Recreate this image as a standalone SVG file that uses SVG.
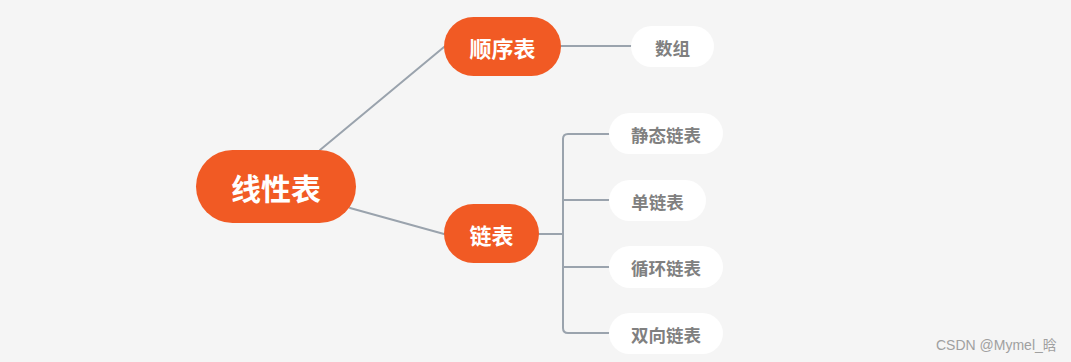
<svg xmlns="http://www.w3.org/2000/svg" width="1071" height="362" viewBox="0 0 1071 362">
<style>
.main{fill:#f15a24}
.leaf{fill:#ffffff}
.tm{font-family:"Noto Sans CJK SC","Liberation Sans",sans-serif;font-weight:bold;fill:#ffffff;text-anchor:middle;dominant-baseline:central}
.tl{font-family:"Noto Sans CJK SC","Liberation Sans",sans-serif;font-weight:bold;fill:#808080;font-size:17.5px;text-anchor:middle;dominant-baseline:central}
.ln{fill:none;stroke:#9aa3ad;stroke-width:2;stroke-linecap:round}
</style>
<rect width="1071" height="362" fill="#f5f5f5"/>
<g id="connectors">
<path class="ln" d="M320 150 L444 47"/>
<path class="ln" d="M350 208 L444 234"/>
<path class="ln" d="M561 46 L631 46"/>
<path class="ln" d="M539 234 L563 234"/>
<path class="ln" d="M609 134 L568 134 Q563 134 563 139 L563 328 Q563 333 568 333 L609 333"/>
<path class="ln" d="M563 200 L609 200"/>
<path class="ln" d="M563 267 L609 267"/>
</g>
<g id="root"><rect class="main" x="196" y="150" width="160" height="73" rx="36.5"/><text class="tm" x="276" y="187" font-size="30">线性表</text></g>
<g id="shunxubiao"><rect class="main" x="444" y="17" width="117" height="59" rx="29.5"/><text class="tm" x="502.5" y="47" font-size="22">顺序表</text></g>
<g id="shuzu"><rect class="leaf" x="631" y="26" width="83" height="41" rx="20.5"/><text class="tl" x="672.5" y="47">数组</text></g>
<g id="lianbiao"><rect class="main" x="444" y="204" width="95" height="59" rx="29.5"/><text class="tm" x="491.5" y="234" font-size="22">链表</text></g>
<g id="jingtai"><rect class="leaf" x="609" y="113" width="114" height="41" rx="20.5"/><text class="tl" x="666" y="134">静态链表</text></g>
<g id="danlian"><rect class="leaf" x="609" y="180" width="97" height="41" rx="20.5"/><text class="tl" x="657.5" y="201">单链表</text></g>
<g id="xunhuan"><rect class="leaf" x="609" y="246" width="114" height="42" rx="21"/><text class="tl" x="666" y="267">循环链表</text></g>
<g id="shuangxiang"><rect class="leaf" x="609" y="313" width="114" height="41" rx="20.5"/><text class="tl" x="666" y="334">双向链表</text></g>
<text x="936" y="350" font-family="'Liberation Sans','Noto Sans CJK SC',sans-serif" font-size="14" fill="#a0a0a0">CSDN @Mymel_晗</text>
</svg>
